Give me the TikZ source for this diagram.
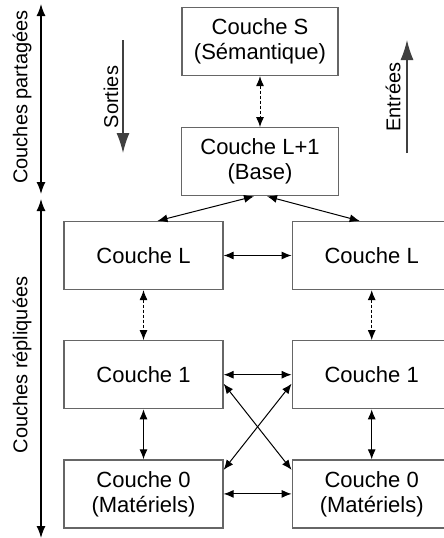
\documentclass[tikz,border=0pt]{standalone}
\usepackage{fontspec}
\setmainfont{Liberation Sans}
\usetikzlibrary{arrows.meta, positioning}

\begin{document}
\begin{tikzpicture}[
  x=1pt, y=1pt,
  couche/.style={draw=black!60, line width=1.2pt, minimum width=159pt, minimum height=68pt, align=center, inner sep=0pt, font=\fontsize{22}{25}\selectfont},
  etiquette/.style={rotate=90, inner sep=0pt, font=\fontsize{20}{24}\selectfont},
  lien/.style={{Latex[length=10pt,width=8pt]}-{Latex[length=10pt,width=8pt]}, line width=1pt},
  lienpt/.style={lien, dash pattern=on 3pt off 2pt},
  axe/.style={{Latex[length=12pt,width=9pt]}-{Latex[length=12pt,width=9pt]}, line width=1.3pt},
  sens/.style={-{Latex[length=20pt,width=13pt]}, line width=1.2pt, draw=black!75},
  >=Latex, node distance=68pt
]
\useasboundingbox (0,0) rectangle (444,-538);

\node[couche, minimum width=156pt] (s) at (260,-41.5) {Couche S\\(Sémantique)};
\node[couche, minimum width=157pt, below=51pt of s] (base) {Couche L+1\\(Base)};
\node[couche] (lg) at (143.5,-255.5) {Couche L};
\node[couche, right=of lg] (ld) {Couche L};
\node[couche, below=50pt of lg] (ug) {Couche 1};
\node[couche, right=of ug] (ud) {Couche 1};
\node[couche, below=50pt of ug] (zg) {Couche 0\\(Matériels)};
\node[couche, right=of zg] (zd) {Couche 0\\(Matériels)};

% axes a gauche
\node[etiquette] (partagees)  at (22,-97)  {Couches partagées};
\node[etiquette] (repliquees) at (22,-365) {Couches répliquées};
\coordinate (a1) at (41,-4);
\coordinate (a2) at (41,-194);
\coordinate (a3) at (41,-199);
\coordinate (a4) at (41,-538);
\draw[axe] (a1) -- (a2);
\draw[axe] (a3) -- (a4);

% sens de parcours
\node[etiquette] (sorties) at (111,-97) {Sorties};
\node[etiquette] (entrees) at (393,-97) {Entrées};
\coordinate (so1) at (123,-40);
\coordinate (so2) at (123,-153);
\coordinate (en1) at (407,-153);
\coordinate (en2) at (407,-40);
\draw[sens] (so1) -- (so2);
\draw[sens] (en1) -- (en2);

\draw[lienpt] (s) -- (base);
\draw[lien] ([xshift=-6pt]base.south) -- ([xshift=14pt]lg.north);
\draw[lien] ([xshift=7pt]base.south) -- ([xshift=-12pt]ld.north);
\draw[lien] (lg) -- (ld);
\draw[lien] (ug) -- (ud);
\draw[lien] (zg) -- (zd);
\draw[lienpt] (lg) -- (ug);
\draw[lienpt] (ld) -- (ud);
\draw[lien] (ug) -- (zg);
\draw[lien] (ud) -- (zd);
\draw[lien] ([yshift=-9pt]ug.east) -- ([yshift=24pt]zd.west);
\draw[lien] ([yshift=-9pt]ud.west) -- ([yshift=24pt]zg.east);
\end{tikzpicture}
\end{document}
